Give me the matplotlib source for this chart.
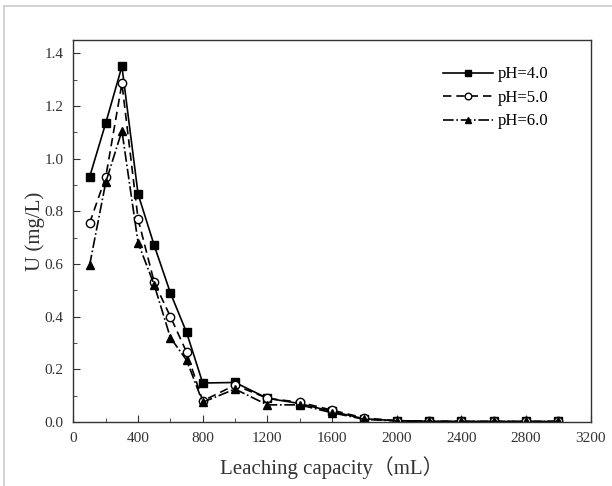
import numpy as np
import matplotlib.pyplot as plt
from matplotlib.ticker import MultipleLocator
from matplotlib.lines import Line2D

# leaching volume (mL)
vol = [100, 200, 300, 400, 500, 600, 700, 800, 1000, 1200, 1400, 1600,
       1800, 2000, 2200, 2400, 2600, 2800, 3000]
# U concentration (mg/L)
ph4 = [0.93, 1.135, 1.35, 0.865, 0.67, 0.49, 0.34, 0.148, 0.15, 0.09, 0.07, 0.04,
       0.012, 0.005, 0.003, 0.002, 0.002, 0.002, 0.002]
ph5 = [0.755, 0.93, 1.285, 0.77, 0.53, 0.40, 0.265, 0.08, 0.14, 0.09, 0.075, 0.045,
       0.015, 0.005, 0.003, 0.002, 0.002, 0.002, 0.002]
ph6 = [0.595, 0.91, 1.105, 0.68, 0.52, 0.32, 0.235, 0.075, 0.125, 0.065, 0.065, 0.035,
       0.01, 0.004, 0.002, 0.002, 0.002, 0.002, 0.002]
labels = ['pH=4.0', 'pH=5.0', 'pH=6.0']

serif = ['Liberation Serif', 'Noto Sans CJK SC']
plt.rcParams['font.family'] = serif

fig = plt.figure(figsize=(6.12, 4.86), dpi=100)
ax = fig.add_axes([0.120, 0.1317, 0.845, 0.786])

ax.plot(vol, ph4, '-', color='black', lw=1.2, marker='s', ms=6, mfc='black', label=labels[0])
ax.plot(vol, ph5, '--', color='black', lw=1.2, marker='o', ms=6, mfc='white', label=labels[1], dashes=(5, 3))
ax.plot(vol, ph6, '-.', color='black', lw=1.2, marker='^', ms=6, mfc='black', label=labels[2])

ax.set_xlim(0, 3200)
ax.set_ylim(0, 1.45)
ax.xaxis.set_major_locator(MultipleLocator(400))
ax.xaxis.set_minor_locator(MultipleLocator(200))
ax.yaxis.set_major_locator(MultipleLocator(0.2))
ax.yaxis.set_minor_locator(MultipleLocator(0.1))
ax.yaxis.set_major_formatter(plt.FormatStrFormatter('%.1f'))
ax.tick_params(which='both', direction='in', top=False, right=False, labelsize=11,
               colors='#333333', labelcolor='#333333')
ax.tick_params(which='major', length=5, pad=7)
ax.tick_params(which='minor', length=3)
for s in ax.spines.values():
    s.set_color('#333333')
    s.set_linewidth(1.0)

ax.set_xlabel('Leaching capacity（mL）', fontsize=15, family=serif, color='#333333', labelpad=8)
ax.set_ylabel('U (mg/L)', fontsize=15, family=serif, color='#333333', labelpad=0)

leg = ax.legend(loc='upper left', bbox_to_anchor=(0.685, 0.97), frameon=False, fontsize=12,
                handlelength=3, handletextpad=0.3, labelspacing=0.45, markerscale=0.8)

# light gray border at top and left of the picture
fig.add_artist(Line2D([0.007, 1], [0.988, 0.988], color='#cccccc', lw=1.2, transform=fig.transFigure))
fig.add_artist(Line2D([0.007, 0.007], [0, 0.988], color='#cccccc', lw=1.2, transform=fig.transFigure))

fig.savefig('out.png', dpi=100)
